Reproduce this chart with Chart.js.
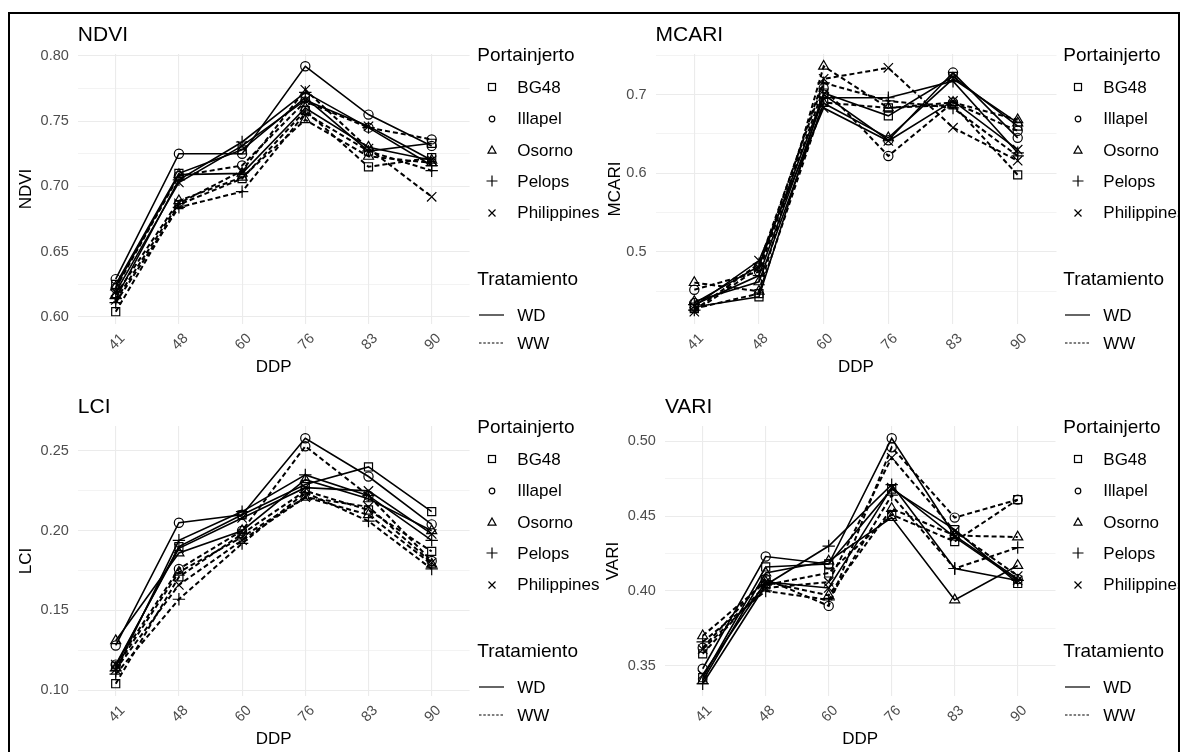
<!DOCTYPE html>
<html><head><meta charset="utf-8">
<script src="https://cdn.jsdelivr.net/npm/chart.js@4"></script>
<style>
html,body{margin:0;padding:0;background:#fff;width:1184px;height:752px;overflow:hidden;font-family:"Liberation Sans",Arial,sans-serif;}
#clip{position:absolute;left:0;top:0;width:1178px;height:752px;overflow:hidden;}
#frame{position:absolute;left:8px;top:12px;width:1168px;height:800px;border:2px solid #000;}
canvas{position:absolute;}
.t{position:absolute;white-space:nowrap;color:#000;line-height:1;}
svg{position:absolute;overflow:visible;}
</style></head><body>
<div id="clip"></div>
<div id="frame"></div>
<script>
// ---------- data ----------
const ddp = ['41','48','60','76','83','90'];
const portainjerto = ['BG48','Illapel','Osorno','Pelops','Philippines'];
const tratamiento = ['WD','WW'];

// rows follow the portainjerto order
const ndviWD = [
  [0.625,0.710,0.728,0.768,0.727,0.733],
  [0.629,0.725,0.725,0.792,0.755,0.731],
  [0.623,0.709,0.710,0.760,0.730,0.720],
  [0.614,0.705,0.734,0.772,0.745,0.716],
  [0.619,0.703,0.731,0.766,0.746,0.720]];
const ndviWW = [
  [0.604,0.686,0.706,0.758,0.715,0.722],
  [0.622,0.708,0.716,0.765,0.745,0.736],
  [0.617,0.689,0.707,0.751,0.723,0.718],
  [0.611,0.684,0.696,0.756,0.727,0.712],
  [0.613,0.687,0.712,0.774,0.729,0.692]];

const mcariWD = [
  [0.430,0.443,0.702,0.673,0.723,0.660],
  [0.435,0.482,0.700,0.642,0.728,0.645],
  [0.437,0.462,0.689,0.645,0.720,0.664],
  [0.433,0.470,0.696,0.696,0.717,0.626],
  [0.431,0.489,0.683,0.641,0.692,0.630]];
const mcariWW = [
  [0.428,0.447,0.690,0.683,0.687,0.598],
  [0.452,0.475,0.708,0.622,0.690,0.654],
  [0.461,0.450,0.736,0.683,0.690,0.668],
  [0.426,0.485,0.715,0.692,0.683,0.622],
  [0.424,0.480,0.720,0.734,0.658,0.616]];

const lciWD = [
  [0.115,0.190,0.210,0.229,0.240,0.212],
  [0.128,0.205,0.210,0.258,0.234,0.204],
  [0.131,0.186,0.200,0.232,0.220,0.200],
  [0.112,0.194,0.212,0.235,0.222,0.194],
  [0.116,0.189,0.208,0.227,0.225,0.198]];
const lciWW = [
  [0.104,0.171,0.198,0.225,0.213,0.187],
  [0.116,0.176,0.200,0.253,0.222,0.181],
  [0.114,0.174,0.196,0.221,0.210,0.179],
  [0.110,0.157,0.192,0.224,0.206,0.176],
  [0.113,0.166,0.194,0.221,0.215,0.180]];

const variWD = [
  [0.342,0.416,0.418,0.468,0.441,0.405],
  [0.348,0.423,0.418,0.502,0.437,0.408],
  [0.340,0.412,0.420,0.449,0.394,0.417],
  [0.338,0.404,0.430,0.471,0.415,0.407],
  [0.344,0.406,0.402,0.469,0.436,0.407]];
const variWW = [
  [0.358,0.404,0.412,0.451,0.433,0.461],
  [0.362,0.408,0.390,0.496,0.449,0.461],
  [0.370,0.406,0.397,0.455,0.437,0.436],
  [0.366,0.400,0.394,0.464,0.415,0.429],
  [0.361,0.402,0.406,0.489,0.440,0.410]];

const ndviTicks = ['0.60','0.65','0.70','0.75','0.80'];
const ndviMinor = [0.625,0.675,0.725,0.775];
const mcariTicks = ['0.5','0.6','0.7'];
const mcariMinor = [0.45,0.55,0.65,0.75];
const lciTicks = ['0.10','0.15','0.20','0.25'];
const lciMinor = [0.125,0.175,0.225];
const variTicks = ['0.35','0.40','0.45','0.50'];
const variMinor = [0.375,0.425,0.475];

// ---------- styling / layout ----------
const FONT = '"Liberation Sans", Arial, sans-serif';
const pointStyles = ['rect','circle','triangle','cross','crossRot'];
const pointRadii = [5.7,4.6,5.8,6.2,6.6];

const panels = [
  {name:'NDVI', wd:ndviWD, ww:ndviWW, ticks:ndviTicks, minor:ndviMinor,
   cx:10, cy:14, cw:480, ch:366, l:77.8, t:54, r:469.6, b:324, ytc:26.7, dx:0, dy:0},
  {name:'MCARI', wd:mcariWD, ww:mcariWW, ticks:mcariTicks, minor:mcariMinor,
   cx:596, cy:14, cw:480, ch:366, l:655.5, t:54, r:1056.5, b:324, ytc:615, dx:586, dy:0},
  {name:'LCI', wd:lciWD, ww:lciWW, ticks:lciTicks, minor:lciMinor,
   cx:10, cy:386, cw:480, ch:366, l:77.8, t:426, r:469.6, b:696, ytc:26.7, dx:0, dy:372},
  {name:'VARI', wd:variWD, ww:variWW, ticks:variTicks, minor:variMinor,
   cx:596, cy:386, cw:480, ch:366, l:664.9, t:426, r:1055.5, b:696, ytc:613.3, dx:586, dy:372}
];

const clip = document.getElementById('clip');

function addText(txt, left, cy, size, color){
  const d = document.createElement('div');
  d.className = 't';
  d.textContent = txt;
  d.style.left = left + 'px';
  d.style.top = (cy - 0.49*size) + 'px';
  d.style.fontSize = size + 'px';
  if (color) d.style.color = color;
  clip.appendChild(d);
}
function addSvg(x, y, w, h, inner){
  const ns = 'http://www.w3.org/2000/svg';
  const s = document.createElementNS(ns,'svg');
  s.setAttribute('width', w); s.setAttribute('height', h);
  s.style.left = x + 'px'; s.style.top = y + 'px';
  s.innerHTML = inner;
  clip.appendChild(s);
}
function symbol(i, cx, cy){
  const st = 'fill="none" stroke="#000" stroke-width="1.2"';
  let inner = '';
  if (i===0) inner = `<rect x="1.5" y="1.5" width="7" height="7" ${st}/>`;
  if (i===1) inner = `<circle cx="5" cy="5" r="2.8" ${st}/>`;
  if (i===2) inner = `<polygon points="5,1 9,8.2 1,8.2" ${st}/>`;
  if (i===3) inner = `<path d="M5,-0.5V10.5M-0.5,5H10.5" ${st}/>`;
  if (i===4) inner = `<path d="M1.5,1.5L8.5,8.5M8.5,1.5L1.5,8.5" ${st}/>`;
  addSvg(cx-5, cy-5, 10, 10, inner);
}

panels.forEach(p => {
  const canvas = document.createElement('canvas');
  canvas.width = p.cw; canvas.height = p.ch;
  canvas.style.left = p.cx + 'px'; canvas.style.top = p.cy + 'px';
  clip.appendChild(canvas);

  const all = p.wd.flat().concat(p.ww.flat());
  const mn = Math.min(...all), mx = Math.max(...all);
  const ex = (mx - mn) * 0.05;
  const lo = mn - ex, hi = mx + ex;

  const tickList = p.ticks.map(s => ({value:parseFloat(s), label:s, major:true}))
    .concat(p.minor.map(v => ({value:v, label:'', major:false})))
    .filter(o => o.value >= lo && o.value <= hi)
    .sort((a,b) => a.value - b.value);

  const datasets = [];
  portainjerto.forEach((name, i) => {
    tratamiento.forEach(tr => {
      const vals = (tr === 'WD' ? p.wd : p.ww)[i];
      datasets.push({
        label: name + ' ' + tr,
        data: vals.map((v, j) => ({x:j, y:v})),
        borderColor:'#000',
        borderWidth: tr === 'WD' ? 1.6 : 2.0,
        borderDash: tr === 'WD' ? [] : [5,3],
        pointStyle: pointStyles[i],
        pointRadius: pointRadii[i],
        pointBorderColor:'#000',
        pointBackgroundColor:'rgba(0,0,0,0)',
        pointBorderWidth:1.2,
        tension:0,
        fill:false
      });
    });
  });

  new Chart(canvas, {
    type:'line',
    data:{datasets},
    options:{
      responsive:false, animation:false, events:[],
      layout:{padding:{left:0, top:p.t - p.cy, right:(p.cx + p.cw) - p.r, bottom:0}},
      plugins:{legend:{display:false}, tooltip:{enabled:false}, title:{display:false}},
      scales:{
        x:{
          type:'linear', min:-0.6, max:ddp.length - 0.4,
          afterBuildTicks: s => { s.ticks = ddp.map((_, i) => ({value:i})); },
          afterFit: s => { s.height = (p.cy + p.ch) - p.b; },
          ticks:{callback: v => ddp[v], minRotation:45, maxRotation:45, autoSkip:false,
                 labelOffset:7, color:'#4d4d4d', font:{family:FONT, size:14.5}, padding:6},
          grid:{color:'#ebebeb', lineWidth:1.1, drawTicks:false},
          border:{display:false},
          title:{display:true, text:'DDP', color:'#000', font:{family:FONT, size:17}, padding:{top:0, bottom:2.8}}
        },
        y:{
          type:'linear', min:lo, max:hi,
          afterBuildTicks: s => { s.ticks = tickList.map(o => ({value:o.value})); },
          afterFit: s => { s.width = p.l - p.cx; },
          ticks:{callback: (v, idx) => tickList[idx] ? tickList[idx].label : '', autoSkip:false,
                 color:'#4d4d4d', font:{family:FONT, size:14.5}, padding:9},
          grid:{color:'#ebebeb', lineWidth: c => (tickList[c.index] && tickList[c.index].major) ? 1.1 : 0.6, drawTicks:false},
          border:{display:false},
          title:{display:true, text:p.name, color:'#000', font:{family:FONT, size:17},
                 padding:{top:p.ytc - p.cx - 10.2, bottom:0}}
        }
      }
    }
  });

  // panel title
  addText(p.name, p.l, p.t - 20.7, 21, '#000');

  // legend
  const dx = p.dx, dy = p.dy;
  addText('Portainjerto', 477.3 + dx, 54 + dy, 19);
  const itemY = [87.3, 118.6, 150, 181.3, 212.6];
  portainjerto.forEach((name, i) => {
    symbol(i, 492.3 + dx, itemY[i] + dy);
    addText(name, 517.3 + dx, itemY[i] + dy, 17);
  });
  addText('Tratamiento', 477.3 + dx, 278.3 + dy, 19);
  addSvg(479.3 + dx, 310 + dy, 26, 10, '<path d="M0,5H25" stroke="#000" stroke-width="1.2"/>');
  addText('WD', 517.3 + dx, 315 + dy, 17);
  addSvg(479.3 + dx, 338.3 + dy, 26, 10, '<path d="M0,5H25" stroke="#000" stroke-width="1.2" stroke-dasharray="2.5,1.8"/>');
  addText('WW', 517.3 + dx, 343.3 + dy, 17);
});
</script>
</body></html>
